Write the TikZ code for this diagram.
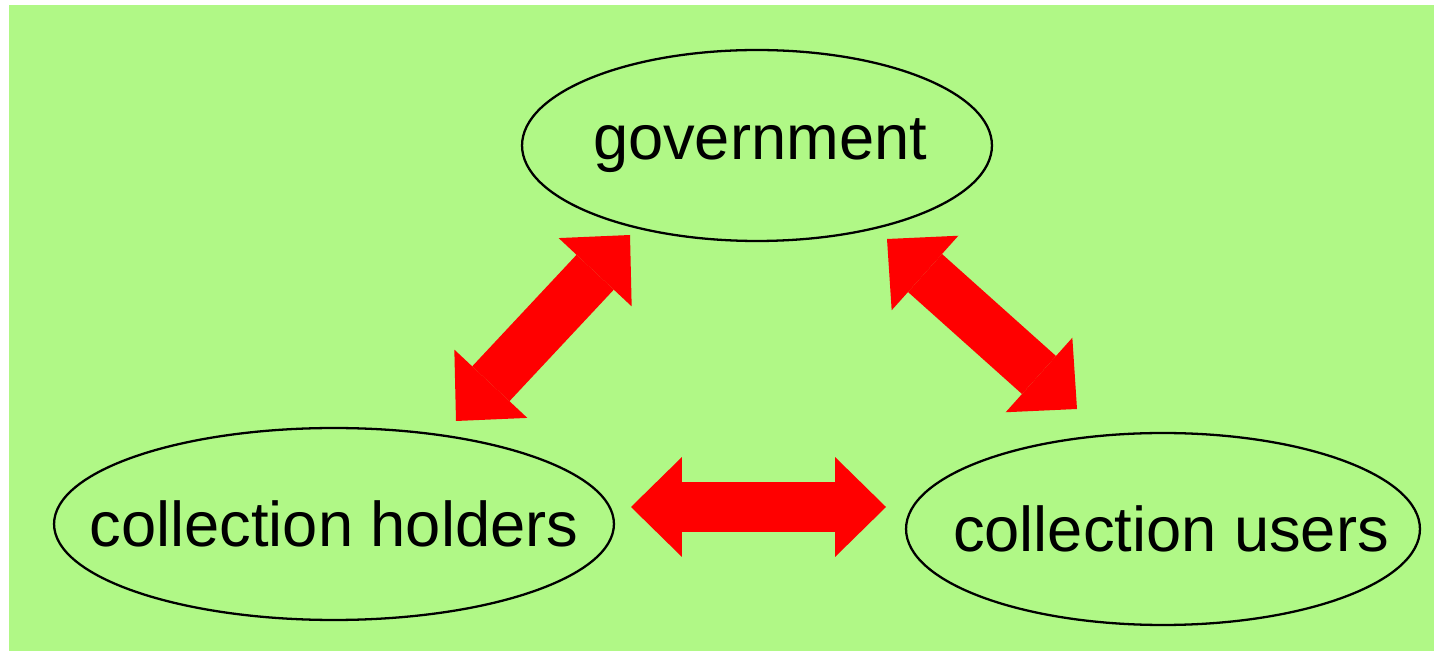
\documentclass[tikz,border=0pt]{standalone}
\usepackage{fontspec}
\setmainfont{Liberation Sans}
\usetikzlibrary{shapes.geometric,arrows.meta}
\definecolor{bggreen}{RGB}{176,248,134}
\tikzset{
	party/.style={draw, ellipse, line width=1.3pt, inner sep=0pt},
	partyname/.style={font=\fontsize{36}{40}\selectfont},
	link/.style={draw=red, line width=1.02cm,
		{Triangle[length=1.02cm, width=2cm, line width=0pt]}-{Triangle[length=1.02cm, width=2cm, line width=0pt]}}
}
\begin{document}
\begin{tikzpicture}[x=0.02cm, y=-0.02cm]
		\useasboundingbox (0,0) rectangle (1434,651);
		\fill[bggreen] (9,5) rectangle (1434,651);
        \node[party, minimum width=9.4cm, minimum height=3.82cm,
        	label={[partyname, xshift=0.06cm]center:government}] (GOV) at (757,145.5) {};
        \node[party, minimum width=11.2cm, minimum height=3.84cm,
        	label={[partyname]center:collection holders}] (HOLD) at (334,524) {};
        \node[party, minimum width=10.28cm, minimum height=3.84cm,
        	label={[partyname, xshift=0.16cm]center:collection users}] (USER) at (1163,529) {};
        \coordinate (HOLD_TIP) at (456,421);
        \coordinate (GOV_TIP_L) at (630,235);
        \coordinate (GOV_TIP_R) at (887,239);
        \coordinate (USER_TIP) at (1077,409);
        \coordinate (HOLD_TIP_R) at (631,507);
        \coordinate (USER_TIP_L) at (886,507);
        \draw[link] (HOLD_TIP) to (GOV_TIP_L);
        \draw[link] (GOV_TIP_R) to (USER_TIP);
        \draw[link] (HOLD_TIP_R) to (USER_TIP_L);
\end{tikzpicture}
\end{document}
